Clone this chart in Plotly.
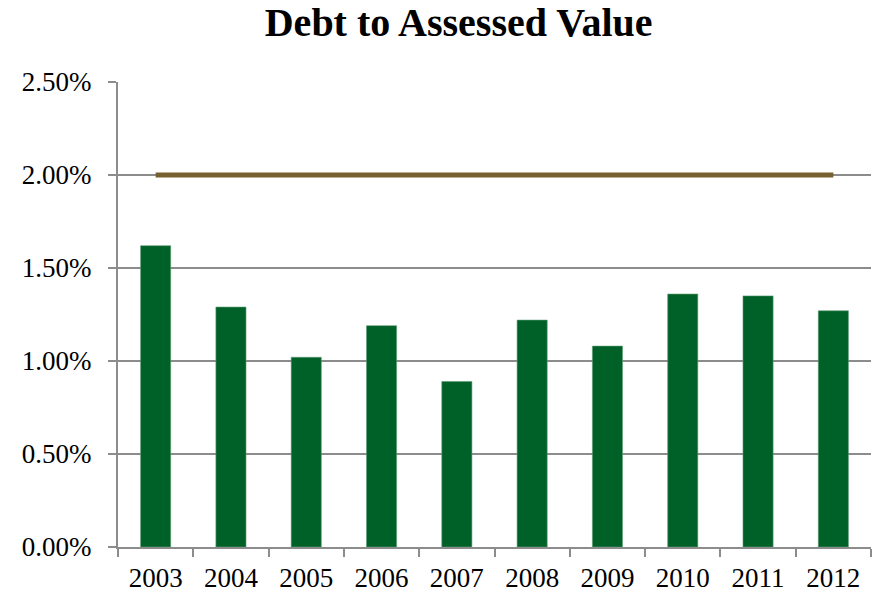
import plotly.graph_objects as go

years = ["2003", "2004", "2005", "2006", "2007", "2008", "2009", "2010", "2011", "2012"]
debt_ratio = [0.0162, 0.0129, 0.0102, 0.0119, 0.0089, 0.0122, 0.0108, 0.0136, 0.0135, 0.0127]
limit = [0.02] * len(years)
y_ticks = [0.0, 0.005, 0.01, 0.015, 0.02, 0.025]

serif = "Liberation Serif, Times New Roman, serif"
gray = "#8c8c8c"

fig = go.Figure()
fig.add_trace(go.Bar(
    x=years, y=debt_ratio,
    marker=dict(color="#006128", line=dict(color="#5f9c74", width=0.6)),
    width=0.4, showlegend=False,
))
fig.add_trace(go.Scatter(
    x=years, y=limit, mode="lines",
    line=dict(color="#77602f", width=5),
    showlegend=False,
))

fig.update_layout(
    width=877, height=592,
    margin=dict(l=118, r=6, t=82, b=45),
    paper_bgcolor="white", plot_bgcolor="white",
    title=dict(
        text="<b>Debt to Assessed Value</b>",
        font=dict(family=serif, size=40, color="black"),
        x=0.523, xanchor="center", y=0.962, yanchor="middle",
    ),
    font=dict(family=serif, size=27, color="black"),
    bargap=0.6,
)
fig.update_xaxes(
    type="category", showline=True, linecolor=gray, linewidth=2,
    ticks="outside", tickson="boundaries", ticklen=8, tickcolor=gray, tickwidth=2,
    showgrid=False, ticklabelstandoff=6, automargin=False,
)
fig.update_yaxes(
    range=[0, 0.025], tickvals=y_ticks, tickformat=".2%",
    showline=True, linecolor=gray, linewidth=2,
    ticks="outside", ticklen=8, tickcolor=gray, tickwidth=2,
    showgrid=True, gridcolor=gray, gridwidth=2, zeroline=False,
    ticklabelstandoff=11, automargin=False,
)

fig.write_html("out.html")
